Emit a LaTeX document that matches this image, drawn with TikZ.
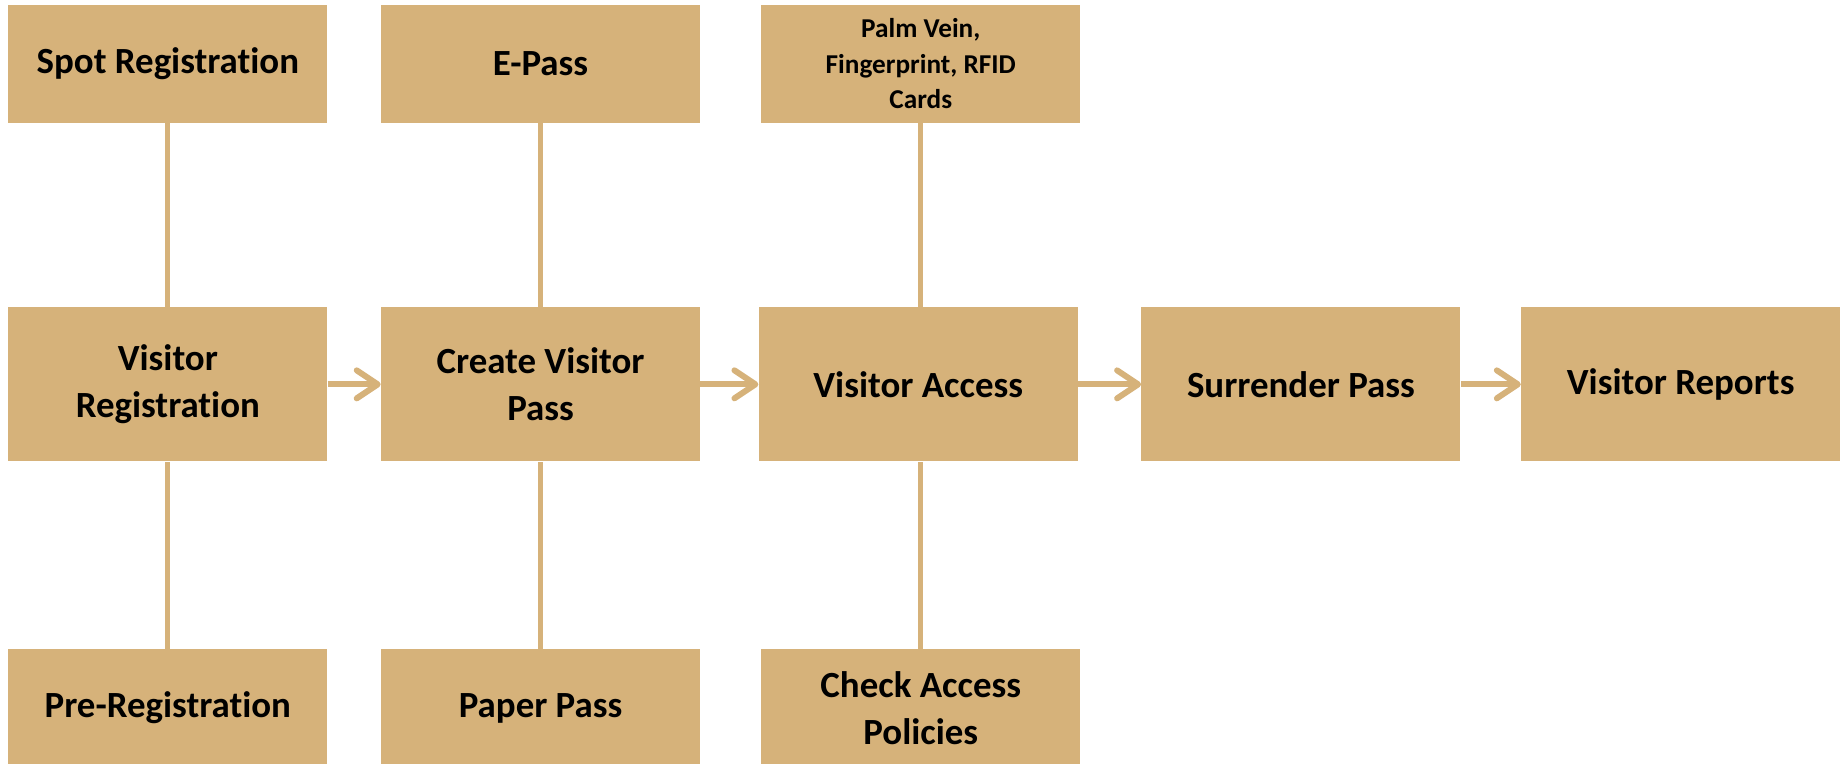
\documentclass[tikz,border=0pt]{standalone}
\usepackage{fontspec}
\setmainfont{Carlito}[Ligatures=NoCommon]
\usetikzlibrary{positioning,arrows.meta}
\definecolor{tan}{RGB}{214,178,122}

\begin{document}
\begin{tikzpicture}[
    box/.style={fill=tan, minimum width=6.38cm, minimum height=3.08cm, inner sep=0pt,
      align=center, font=\fontsize{21}{26.5}\selectfont\bfseries},
    sidebox/.style={box, minimum height=2.36cm},
    link/.style={draw=tan, line width=2.8pt},
    flow/.style={link, line width=3.4pt, -{Straight Barb[length=0.42cm,width=0.56cm,round]}}
  ]
  \useasboundingbox (0,0) rectangle (36.82,-15.28);

  % main row
  \node [box, anchor=north west] (reg) at (0.16,-6.14) {Visitor\\Registration};
  \node [box, right=1.06cm of reg] (cpass) {Create Visitor\\Pass};
  \node [box, right=1.16cm of cpass] (acc) {Visitor Access};
  \node [box, right=1.26cm of acc] (surr) {Surrender Pass};
  \node [box, right=1.2cm of surr] (rep) {Visitor Reports};

  % upper row
  \node [sidebox, above=3.68cm of reg] (spot) {Spot Registration};
  \node [sidebox, above=3.68cm of cpass] (epass) {E-Pass};
  \node [sidebox, above=3.68cm of acc, xshift=0.05cm,
    font=\fontsize{15.5}{20}\selectfont\bfseries] (palm) {Palm Vein,\\Fingerprint, RFID\\Cards};

  % lower row
  \node [sidebox, below=3.74cm of reg] (prereg) {Pre-Registration};
  \node [sidebox, below=3.74cm of cpass] (paper) {Paper Pass};
  \node [sidebox, below=3.74cm of acc, xshift=0.05cm] (chk) {Check Access\\Policies};

  \draw [link] (spot) -- (reg);
  \draw [link] (epass) -- (cpass);
  \draw [link] (palm.south) -- (palm.south |- acc.north);
  \draw [link] (prereg) -- (reg);
  \draw [link] (paper) -- (cpass);
  \draw [link] (chk.north) -- (chk.north |- acc.south);

  \draw [flow] (reg) -- (cpass);
  \draw [flow] (cpass) -- (acc);
  \draw [flow] (acc) -- (surr);
  \draw [flow] (surr) -- (rep);
\end{tikzpicture}
\end{document}
